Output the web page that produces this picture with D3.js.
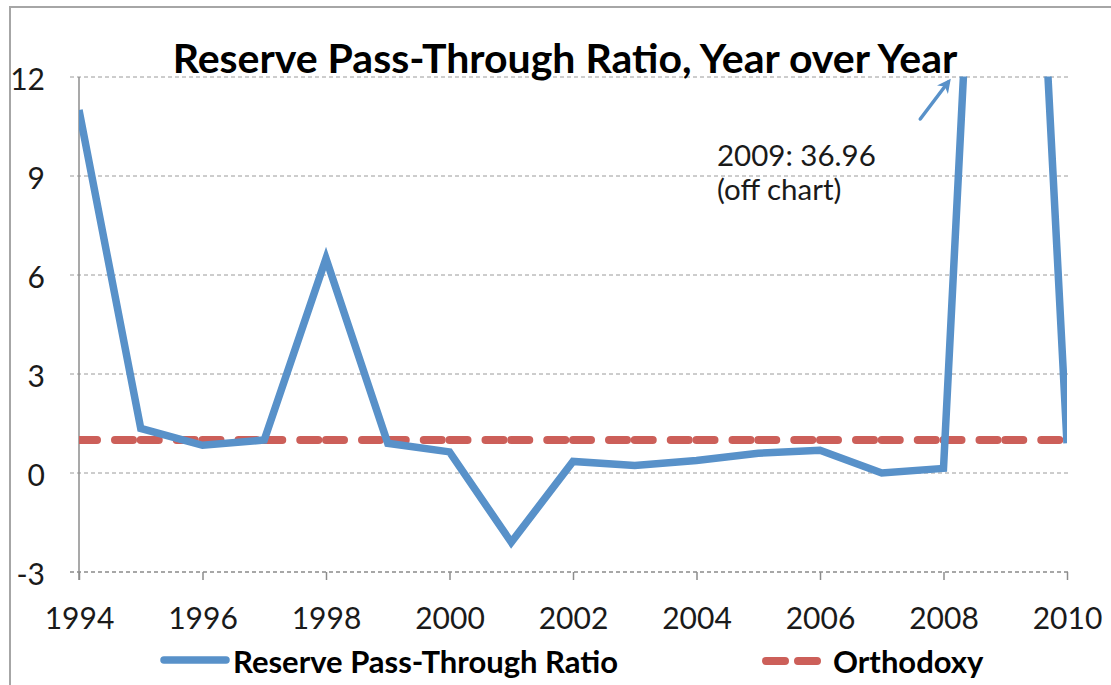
<!DOCTYPE html>
<html>
<head>
<meta charset="utf-8">
<script src="https://cdn.jsdelivr.net/npm/d3@7"></script>
<style>
  html, body { margin: 0; padding: 0; background: #fff; }
  svg { display: block; font-family: Lato, "Open Sans", sans-serif; }
</style>
</head>
<body>
<svg id="chart" width="1111" height="685"></svg>
<script>
// Reserve pass-through ratio, year over year
const years = [1994, 1995, 1996, 1997, 1998, 1999, 2000, 2001, 2002,
               2003, 2004, 2005, 2006, 2007, 2008, 2009, 2010];
const ratio = [11.0, 1.35, 0.84, 1.0, 6.5, 0.9, 0.64, -2.1, 0.35,
               0.23, 0.38, 0.6, 0.69, 0.0, 0.14, 36.96, 0.9];
const orthodoxy = [1, 1, 1, 1, 1, 1, 1, 1, 1, 1, 1, 1, 1, 1, 1, 1, 1];
const xTicks = [1994, 1996, 1998, 2000, 2002, 2004, 2006, 2008, 2010];
const yTicks = [-3, 0, 3, 6, 9, 12];
const seriesNames = ["Reserve Pass-Through Ratio", "Orthodoxy"];
const titleText = "Reserve Pass-Through Ratio, Year over Year";
const noteLines = ["2009: 36.96", "(off chart)"];
const noteYear = 2009;

const blue = "#5891c9";
const red = "#cc5f59";

const svg = d3.select("#chart");
const plotL = 79, plotR = 1067, plotT = 77, plotB = 572;

const x = d3.scaleLinear().domain([1994, 2010]).range([plotL, plotR]);
const y = d3.scaleLinear().domain([-3, 12]).range([plotB, plotT]);

// outer frame
svg.append("path")
  .attr("d", "M10,700 L10,7 L1120,7")
  .attr("fill", "none").attr("stroke", "#a6a6a6").attr("stroke-width", 2);

// clip region for plotted series
const defs = svg.append("defs");
defs.append("clipPath").attr("id", "plotClip")
  .append("rect").attr("x", plotL).attr("y", plotT - 0.5)
  .attr("width", plotR - plotL).attr("height", plotB - plotT + 1);

// horizontal gridlines
svg.append("g").selectAll("line").data(yTicks).join("line")
  .attr("x1", plotL - 9).attr("x2", plotR + 1)
  .attr("y1", d => y(d)).attr("y2", d => y(d))
  .attr("stroke", d => d === -3 ? "#8a8a8a" : "#9a9a9a")
  .attr("stroke-width", d => d === -3 ? 1.6 : 1)
  .attr("stroke-dasharray", "4,3");

// y axis (plain hyphen for negatives)
const yAxis = d3.axisLeft(y).tickValues(yTicks).tickSize(0).tickPadding(34)
  .tickFormat(d => String(d));
const gy = svg.append("g").attr("transform", `translate(${plotL},0)`).call(yAxis);
gy.select(".domain").remove();
gy.selectAll("text").attr("font-size", 30).attr("fill", "#1a1a1a")
  .attr("font-family", "Lato, sans-serif").attr("dy", "0.4em");
svg.append("line").attr("x1", plotL).attr("x2", plotL)
  .attr("y1", plotT).attr("y2", plotB + 8)
  .attr("stroke", "#8c8c8c").attr("stroke-width", 1.5);

// x axis
const xAxis = d3.axisBottom(x).tickValues(xTicks).tickSize(8).tickPadding(28)
  .tickFormat(d => String(d));
const gx = svg.append("g").attr("transform", `translate(0,${plotB})`).call(xAxis);
gx.select(".domain").remove();
gx.selectAll(".tick line").attr("stroke", "#8c8c8c").attr("stroke-width", 1.5);
gx.selectAll("text").attr("font-size", 30).attr("fill", "#1a1a1a")
  .attr("font-family", "Lato, sans-serif");

// orthodoxy benchmark, dashed segment by segment
const orthoPts = years.map((yr, i) => [yr, orthodoxy[i]]);
const segs = d3.pairs(orthoPts);
svg.append("g").attr("clip-path", "url(#plotClip)")
  .selectAll("line").data(segs).join("line")
  .attr("x1", d => x(d[0][0])).attr("y1", d => y(d[0][1]))
  .attr("x2", d => x(d[1][0])).attr("y2", d => y(d[1][1]))
  .attr("stroke", red).attr("stroke-width", 8)
  .attr("stroke-linecap", "round")
  .attr("stroke-dasharray", "18,18,18,30");

// ratio series
const line = d3.line().x((d, i) => x(years[i])).y(d => y(d));
svg.append("g").attr("clip-path", "url(#plotClip)")
  .append("path").datum(ratio)
  .attr("d", line)
  .attr("fill", "none").attr("stroke", blue).attr("stroke-width", 7.5)
  .attr("stroke-linejoin", "miter");

// title
svg.append("text").attr("x", 565).attr("y", 73)
  .attr("text-anchor", "middle").attr("font-weight", "bold")
  .attr("font-size", 41).attr("fill", "#000").text(titleText);

// off-chart note with arrow
const note = svg.append("text").attr("x", 717).attr("y", 166)
  .attr("font-size", 29.5).attr("fill", "#1a1a1a");
note.selectAll("tspan").data(noteLines).join("tspan")
  .attr("x", 717).attr("dy", (d, i) => i === 0 ? 0 : 34).text(d => d);

const noteIdx = years.indexOf(noteYear);
const ax = x(noteYear) - 57, ay = y(12) + 5;
defs.append("marker").attr("id", "arrowHead")
  .attr("viewBox", "0 0 10 10").attr("refX", 7).attr("refY", 5)
  .attr("markerWidth", 4).attr("markerHeight", 4).attr("orient", "auto")
  .append("path").attr("d", "M0,0 L10,5 L0,10 L3,5 Z").attr("fill", blue);
svg.append("line").attr("x1", ax - 28).attr("y1", ay + 37)
  .attr("x2", ax).attr("y2", ay)
  .attr("stroke", blue).attr("stroke-width", 3.5)
  .attr("stroke-linecap", "round")
  .attr("marker-end", "url(#arrowHead)")
  .attr("data-value", ratio[noteIdx]);

// legend
const legend = svg.append("g");
legend.append("line").attr("x1", 164).attr("x2", 226).attr("y1", 660).attr("y2", 660)
  .attr("stroke", blue).attr("stroke-width", 7.5).attr("stroke-linecap", "round");
legend.append("text").attr("x", 233).attr("y", 673)
  .attr("font-size", 31).attr("font-weight", "bold").attr("fill", "#000")
  .text(seriesNames[0]);
legend.append("line").attr("x1", 766).attr("x2", 820).attr("y1", 661).attr("y2", 661)
  .attr("stroke", red).attr("stroke-width", 8).attr("stroke-linecap", "round")
  .attr("stroke-dasharray", "19,13");
legend.append("text").attr("x", 833).attr("y", 673)
  .attr("font-size", 31).attr("font-weight", "bold").attr("fill", "#000")
  .text(seriesNames[1]);
</script>
</body>
</html>
